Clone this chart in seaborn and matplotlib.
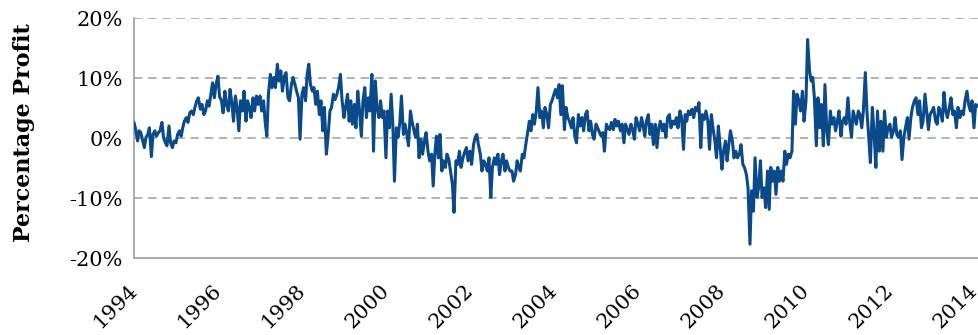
import matplotlib
matplotlib.use("Agg")
import matplotlib.pyplot as plt
from matplotlib.ticker import FuncFormatter
import seaborn as sns
import pandas as pd

# Percentage profit, two readings per month (1st and 15th)
y1994 = [2.6, 1.5, -0.5, 1.2, 0.9, -0.2, -1.6, 0.1, 0.6, 1.7, -3.1, 0.6, 1.2, 0.3, 0.9, 1.2, 2.6, 0.1, -0.8, -1.3, 2.0, -0.8, -1.6, -0.5]
y1995 = [-0.8, 0.6, 1.2, 0.3, 1.7, 2.8, 3.4, 2.6, 4.2, 4.5, 3.9, 5.1, 6.2, 6.7, 4.8, 5.6, 3.9, 4.5, 6.2, 5.3, 7.3, 9.2, 6.7, 8.9]
y1996 = [10.3, 6.9, 6.2, 4.2, 7.8, 5.6, 4.5, 8.1, 5.9, 2.8, 7.0, 5.1, 1.2, 6.2, 4.5, 7.8, 2.8, 6.2, 5.1, 3.4, 6.7, 4.5, 7.0, 5.6]
y1997 = [7.0, 4.5, 6.2, 2.6, 0.3, 7.3, 10.6, 8.4, 10.1, 8.4, 12.3, 9.5, 11.2, 7.8, 10.3, 10.9, 6.7, 6.2, 8.9, 10.1, 8.9, 7.8, 6.7, -0.2]
y1998 = [7.3, 8.4, 6.2, 10.6, 12.3, 9.0, 7.8, 8.4, 5.6, 7.8, 3.9, 6.2, 1.2, 5.1, -2.7, 0.1, 4.5, 5.1, 7.3, 6.4, 7.3, 8.4, 10.6, 6.4]
y1999 = [3.4, 5.1, 7.3, 2.8, 6.2, 2.3, 5.6, 1.7, 7.8, 4.8, 0.3, 6.2, 8.4, 3.4, 6.7, 4.5, 10.6, -2.2, 9.5, 5.1, 3.4, 6.2, 3.4, 4.5]
y2000 = [-3.3, 4.5, 1.7, 7.3, 2.3, -7.2, 1.7, 0.1, 2.6, 7.0, 0.6, 2.3, 0.6, -1.3, 4.5, 2.8, 1.2, 0.1, 2.3, -3.3, -0.2, -2.7, -0.5, 0.9]
y2001 = [-2.2, -3.8, -2.7, -8.0, -2.7, 0.3, -3.3, 0.6, -5.5, -3.8, -4.9, -2.7, -3.6, -5.5, -7.7, -12.4, -3.8, -4.4, -2.2, -4.9, -3.3, -2.4, -1.6, -3.8]
y2002 = [-2.2, -4.4, -1.1, 0.1, 0.6, -1.1, -2.7, -5.5, -3.8, -4.4, -5.5, -3.3, -9.9, -4.9, -3.3, -4.4, -2.7, -6.1, -3.8, -2.7, -5.5, -3.8, -4.9, -5.5]
y2003 = [-5.5, -7.2, -6.1, -3.8, -4.9, -5.5, -2.7, -3.3, -1.1, 0.6, 2.8, 1.2, 3.9, 2.3, 4.5, 8.4, 3.4, 4.5, 1.7, 5.1, 3.9, 1.7, 5.6, 6.2]
y2004 = [7.3, 8.1, 6.7, 8.9, 3.9, 8.7, 1.4, 5.1, 3.4, 2.8, 1.7, 3.4, 0.3, -0.8, 3.9, 2.0, 3.4, 1.2, 3.9, 4.5, 1.2, 2.8, 0.6, -0.2]
y2005 = [2.3, 1.7, 0.9, 0.3, 0.9, -2.2, 2.3, 1.7, 1.4, 2.6, 1.4, 3.1, 2.0, 2.8, 1.2, 2.3, -0.8, 2.3, 1.4, 0.6, 2.3, 1.4, -0.2, 3.4]
y2006 = [2.3, 1.2, 3.4, 2.0, 0.3, 2.8, 3.9, 0.6, 2.3, -1.1, 2.3, -1.6, 1.7, 2.8, 1.2, 2.3, 0.1, 3.4, 3.9, 1.7, 2.8, 2.3, 3.4, 1.7]
y2007 = [4.5, 3.4, -1.9, 3.9, 2.8, 4.5, 3.9, 4.8, 3.4, 5.1, 4.5, 5.9, -1.6, 3.9, 3.1, 4.5, 2.8, -1.9, 3.9, 1.7, -0.5, -3.3, 2.0, -1.1]
y2008 = [-5.2, -2.2, -0.5, -3.8, -1.1, 1.2, -0.5, -3.3, -2.2, -3.3, -2.7, -1.1, -4.4, -4.9, -6.1, -8.3, -17.7, -8.8, -12.2, -3.3, -9.9, -8.3, -3.8, -9.9]
y2009 = [-8.3, -11.6, -5.5, -11.9, -4.9, -7.2, -5.5, -9.4, -4.9, -7.2, -5.5, -7.2, -2.2, -4.4, -2.7, -3.3, -2.2, 7.8, 2.3, 7.3, 6.2, 4.5, 7.8, 2.8]
y2010 = [6.2, 16.4, 11.2, 9.5, 10.1, 6.7, -1.3, 6.7, 1.7, 5.6, -1.3, 8.9, 1.2, -1.1, 4.5, 2.3, 3.4, 1.2, 2.8, 4.5, 0.3, 2.8, 3.4, 2.3]
y2011 = [6.7, 2.8, 0.1, 4.5, 3.4, 2.3, 4.5, 3.9, 1.7, 4.5, 10.9, 4.5, 0.1, -4.1, 5.1, 1.2, -4.9, 4.5, -2.2, 2.8, -2.2, 4.5, 0.1, 1.7]
y2012 = [2.3, 0.1, 1.2, 3.4, 0.6, 0.1, 1.2, -3.6, 0.1, 1.7, 3.4, -0.2, 3.4, 5.1, 6.2, 6.7, 3.9, 6.2, 1.7, 2.8, 7.3, 4.5, 1.4, 3.9]
y2013 = [4.5, 5.1, 2.8, 2.3, 5.1, 4.5, 2.8, 7.6, 4.5, 3.4, 5.1, 6.7, 3.9, 4.5, 1.7, 5.1, 3.4, 4.5, 3.9, 6.2, 7.8, 5.6, 4.5, 6.2]
y2014 = [1.7, 5.6, 5.3]

yearly = [y1994, y1995, y1996, y1997, y1998, y1999, y2000, y2001, y2002, y2003,
          y2004, y2005, y2006, y2007, y2008, y2009, y2010, y2011, y2012, y2013, y2014]
values = [v for yr in yearly for v in yr]
dates = pd.date_range("1994-01-01", periods=len(values), freq="SMS")
df = pd.DataFrame({"date": dates, "profit": values})

x_tick_years = [1994, 1996, 1998, 2000, 2002, 2004, 2006, 2008, 2010, 2012, 2014]
y_ticks = [-20, -10, 0, 10, 20]
y_label = "Percentage Profit"

sns.set_style("white")
plt.rcParams["font.family"] = ["DejaVu Serif"]
plt.rcParams["text.color"] = "black"

W, H = 979, 335
fig = plt.figure(figsize=(W / 100, H / 100), dpi=100)
ax = fig.add_axes([134 / W, 1 - 258 / H, (978 - 134) / W, 240 / H])

grid_c = "#a6a6a6"
for t in y_ticks[1:]:
    ax.axhline(t, color=grid_c, lw=1.2, ls=(0, (5, 3.5)), zorder=0)

sns.lineplot(data=df, x="date", y="profit", ax=ax, color="#0b4a8a", linewidth=2.2, zorder=3)

ax.set_ylim(-20, 20)
ax.set_yticks(y_ticks)
ax.yaxis.set_major_formatter(FuncFormatter(lambda v, p: f"{v:.0f}%"))
ax.set_xlim(pd.Timestamp("1994-01-01"), pd.Timestamp("2014-02-05"))
ax.set_xticks([pd.Timestamp(f"{y}-01-01") for y in x_tick_years])
ax.set_xticklabels([str(y) for y in x_tick_years])

for s in ["top", "right"]:
    ax.spines[s].set_visible(False)
for s in ["left", "bottom"]:
    ax.spines[s].set_color(grid_c)
    ax.spines[s].set_linewidth(1.3)

ax.tick_params(axis="both", which="major", direction="out", length=5, width=1.3,
               color=grid_c, labelsize=15, labelcolor="black")
ax.tick_params(axis="y", pad=3)
ax.tick_params(axis="x", pad=16.5)
for lbl in ax.get_xticklabels():
    lbl.set_rotation(45)
    lbl.set_horizontalalignment("right")
    lbl.set_verticalalignment("center")
    lbl.set_rotation_mode("anchor")

ax.set_xlabel("")
ax.set_ylabel("")
fig.text(24 / W, 1 - 133 / H, y_label, rotation=90, ha="center", va="center",
         fontsize=16, fontweight="bold", color="black")

fig.savefig("out.png", dpi=100)
